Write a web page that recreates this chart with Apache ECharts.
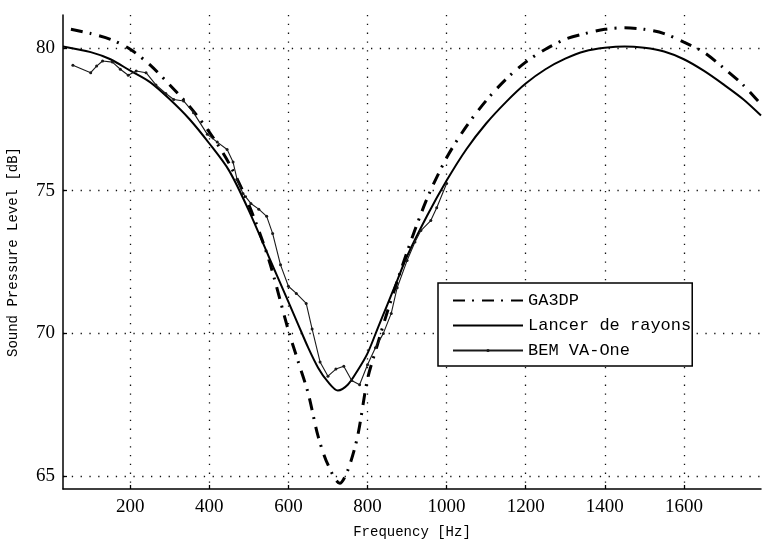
<!DOCTYPE html>
<html>
<head>
<meta charset="utf-8">
<script src="https://cdn.jsdelivr.net/npm/echarts@6/dist/echarts.min.js"></script>
<style>
  html, body { margin: 0; padding: 0; background: #fff; }
  #chart { width: 776px; height: 540px; }
</style>
</head>
<body>
<div id="chart"></div>
<script>
// ---- Data ----
const seriesNames = ['GA3DP', 'Lancer de rayons', 'BEM VA-One'];

const ga3dpFreq = [50, 100, 150, 200, 250, 300, 350, 400, 450, 500, 550, 600, 625, 650, 675, 700, 730, 750, 775, 800, 825, 850, 900, 950, 1000, 1050, 1100, 1150, 1200, 1250, 1300, 1350, 1400, 1450, 1500, 1550, 1600, 1650, 1700, 1750, 1795];
const ga3dpDb   = [80.65, 80.5, 80.3, 79.95, 79.4, 78.7, 77.95, 77.05, 75.95, 74.5, 72.6, 70.1, 69.0, 67.9, 66.4, 65.4, 64.75, 65.2, 66.4, 68.4, 69.6, 70.75, 72.85, 74.7, 76.15, 77.25, 78.15, 78.9, 79.5, 79.95, 80.3, 80.5, 80.65, 80.7, 80.65, 80.5, 80.2, 79.85, 79.3, 78.7, 78.02];

const lancerFreq = [30, 100, 150, 200, 250, 300, 350, 400, 450, 500, 550, 600, 625, 650, 675, 700, 725, 750, 775, 800, 825, 850, 875, 900, 950, 1000, 1050, 1100, 1150, 1200, 1250, 1300, 1350, 1400, 1450, 1500, 1550, 1600, 1650, 1700, 1750, 1795];
const lancerDb   = [80.05, 79.85, 79.6, 79.2, 78.8, 78.2, 77.5, 76.65, 75.7, 74.3, 72.7, 71.1, 70.3, 69.5, 68.8, 68.3, 68.0, 68.2, 68.7, 69.3, 70.15, 71.0, 71.85, 72.7, 74.1, 75.35, 76.45, 77.35, 78.1, 78.75, 79.25, 79.62, 79.88, 80.0, 80.05, 80.0, 79.87, 79.6, 79.2, 78.72, 78.2, 77.63];

const bemFreq = [55, 100, 115, 130, 155, 175, 195, 215, 240, 265, 290, 310, 335, 360, 395, 420, 445, 460, 470, 485, 505, 525, 545, 560, 580, 600, 620, 645, 660, 680, 700, 720, 740, 760, 780, 800, 820, 840, 860, 875, 900, 920, 935, 960, 975, 1000];
const bemDb   = [79.39, 79.13, 79.36, 79.54, 79.5, 79.25, 79.04, 79.19, 79.13, 78.7, 78.4, 78.19, 78.14, 77.73, 76.97, 76.7, 76.44, 76.0, 75.4, 74.9, 74.55, 74.35, 74.1, 73.5, 72.4, 71.65, 71.4, 71.05, 70.15, 69.0, 68.5, 68.75, 68.85, 68.35, 68.2, 68.9, 69.5, 70.0, 70.7, 71.6, 72.55, 73.2, 73.6, 73.95, 74.4, 75.25];

const xName = 'Frequency [Hz]';
const yName = 'Sound Pressure Level [dB]';

// ---- Build ----
const zip = (xs, ys) => xs.map((x, i) => [x, ys[i]]);

const chart = echarts.init(document.getElementById('chart'), null, { renderer: 'canvas' });

const gridLine = { show: true, showMinLine: false, showMaxLine: false,
  lineStyle: { color: '#111', width: 1.3, type: [1.3, 7.5] } };

chart.setOption({
  animation: false,
  backgroundColor: '#fff',
  grid: { left: 63, right: 15, top: 15, bottom: 51, containLabel: false, outerBoundsMode: 'none' },
  xAxis: {
    type: 'value',
    min: 30, max: 1795,
    splitNumber: 9,
    name: xName,
    nameLocation: 'middle',
    nameGap: 36,
    nameTextStyle: { fontFamily: 'Liberation Mono', fontSize: 14, color: '#000' },
    axisLine: { show: true, onZero: false, lineStyle: { color: '#000', width: 1.5 } },
    axisTick: { show: true, inside: true, length: 4, lineStyle: { color: '#000', width: 1.3 } },
    axisLabel: { color: '#000', fontFamily: 'Liberation Serif', fontSize: 19, margin: 9,
      showMinLabel: false, showMaxLabel: false, formatter: v => String(v) },
    splitLine: gridLine
  },
  yAxis: {
    type: 'value',
    min: 64.55, max: 81.15,
    splitNumber: 3,
    name: yName,
    nameLocation: 'middle',
    nameGap: 43,
    nameTextStyle: { fontFamily: 'Liberation Mono', fontSize: 14, color: '#000' },
    axisLine: { show: true, onZero: false, lineStyle: { color: '#000', width: 1.5 } },
    axisTick: { show: true, inside: true, length: 4, lineStyle: { color: '#000', width: 1.3 } },
    axisLabel: { color: '#000', fontFamily: 'Liberation Serif', fontSize: 19, margin: 8,
      showMinLabel: false, showMaxLabel: false, formatter: v => String(v) },
    splitLine: gridLine
  },
  legend: {
    orient: 'vertical',
    left: 438, top: 283,
    padding: [9, 1, 7, 14],
    itemWidth: 70, itemHeight: 4, itemGap: 8,
    backgroundColor: '#fff',
    borderColor: '#000', borderWidth: 1.5, borderRadius: 0,
    textStyle: { fontFamily: 'Liberation Mono', fontSize: 17, color: '#000' },
    data: [
      { name: seriesNames[0], itemStyle: { opacity: 0 } },
      { name: seriesNames[1], itemStyle: { opacity: 0 } },
      { name: seriesNames[2], itemStyle: { opacity: 1 } }
    ]
  },
  series: [
    {
      name: seriesNames[0], type: 'line', data: zip(ga3dpFreq, ga3dpDb),
      smooth: 0.3, symbol: 'none',
      lineStyle: { color: '#000', width: 3, type: [12, 7, 2, 8] },
      itemStyle: { color: '#000' }, z: 3
    },
    {
      name: seriesNames[1], type: 'line', data: zip(lancerFreq, lancerDb),
      smooth: 0.3, symbol: 'none',
      lineStyle: { color: '#000', width: 2 },
      itemStyle: { color: '#000' }, z: 4
    },
    {
      name: seriesNames[2], type: 'line', data: zip(bemFreq, bemDb),
      smooth: false, symbol: 'circle', symbolSize: 3, showSymbol: true,
      lineStyle: { color: '#1a1a1a', width: 1.1 },
      itemStyle: { color: '#1a1a1a' }, z: 5
    }
  ]
});
</script>
</body>
</html>
